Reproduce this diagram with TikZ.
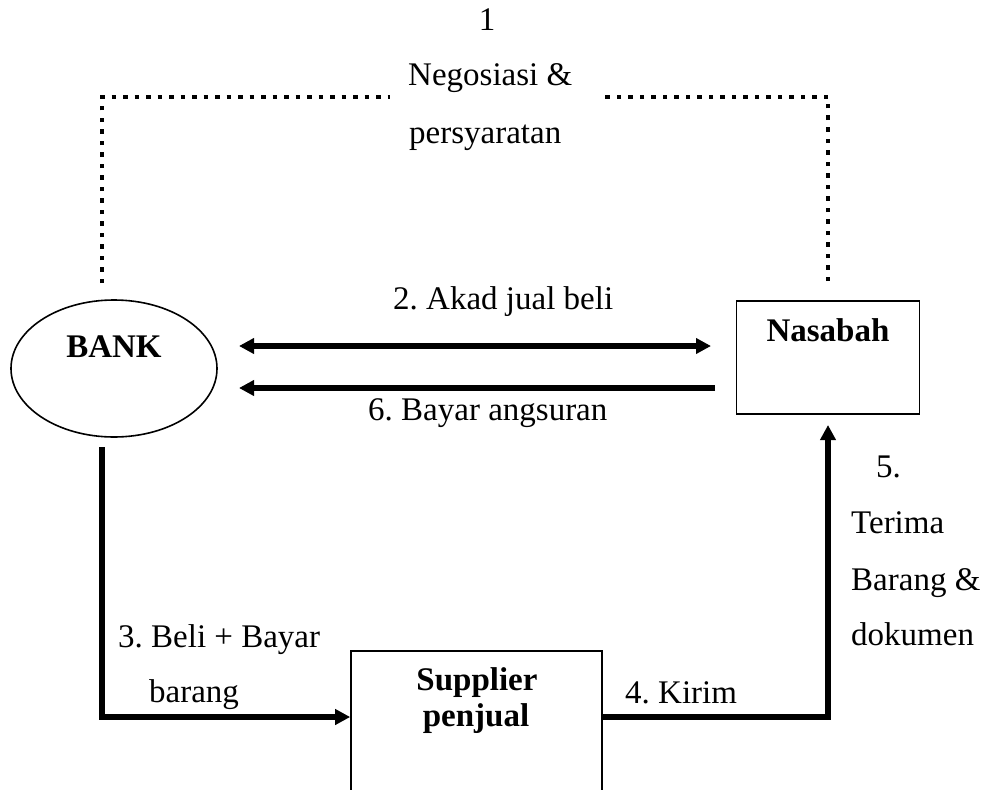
\documentclass[tikz,border=0pt]{standalone}
\usepackage{fontspec}
\setmainfont{Liberation Serif}
\usetikzlibrary{arrows.meta,shapes.geometric}
\frenchspacing

\begin{document}
\begin{tikzpicture}[x=1pt,y=-1pt,
  every node/.style={font=\fontsize{33}{39}\selectfont},
  txt/.style={inner sep=0pt, anchor=base west},
  ctxt/.style={inner sep=0pt, anchor=base},
  btxt/.style={inner sep=0pt, anchor=base, font=\fontsize{33}{39}\selectfont\bfseries},
  box/.style={draw, line width=1.6pt, rectangle},
  flow/.style={line width=5.5pt, line join=miter,
    -{Triangle[length=15pt,width=15pt]}},
  both/.style={line width=5.5pt,
    {Triangle[length=15pt,width=15pt]}-{Triangle[length=15pt,width=15pt]}},
  dots/.style={line width=4.5pt, dash pattern=on 4.5pt off 7pt}
]
\clip (0,0) rectangle (981,789);
\fill[white] (0,0) rectangle (981,789);

% parties
\node[ellipse, draw, line width=1.6pt, minimum width=206, minimum height=137] (bank) at (114,368.5) {};
\node[box, minimum width=183, minimum height=113] (nasabah) at (828,357.5) {};
\node[box, minimum width=251, minimum height=170] (supplier) at (476.5,736) {};

\node[btxt] (bankname) at (114,357) {BANK};
\node[btxt] (nasname) at (828,341) {Nasabah};
\node[btxt] (supname1) at (477,690) {Supplier};
\node[btxt] (supname2) at (476,726) {penjual};

% step 1: negotiation link
\coordinate (nl) at (390,97);
\coordinate (nr) at (602,97);
\coordinate (dl) at (102,283);
\coordinate (dr) at (828,281);
\draw[dots] (dl) |- (nl);
\draw[dots] (dr) |- (nr);
\node[ctxt] (s1) at (487,31) {1};
\node[txt] (s1a) at (408,86) {Negosiasi \&};
\node[txt] (s1b) at (409,143) {persyaratan};

% steps 2 and 6
\coordinate (a2l) at (239,346);
\coordinate (a2r) at (711,346);
\draw[both] (a2l) -- (a2r);
\node[txt] (s2) at (393,309) {2. Akad jual beli};
\coordinate (a6r) at (715,388);
\coordinate (a6l) at (239,388);
\draw[flow] (a6r) -- (a6l);
\node[txt] (s6) at (368,420) {6. Bayar angsuran};

% step 3: bank buys from supplier
\coordinate (b3) at (102,447);
\coordinate (c3) at (102,717);
\draw[flow] (b3) -- (c3) -- (c3 -| supplier.west);
\node[txt] (s3a) at (118,647) {3. Beli + Bayar};
\node[txt] (s3b) at (149,702) {barang};

% steps 4 and 5: delivery to customer
\coordinate (c4) at (828,717);
\coordinate (t5) at (828,425);
\draw[flow] (c4 -| supplier.east) -- (c4) -- (t5);
\node[txt] (s4) at (625,703) {4. Kirim};
\node[txt] (s5a) at (876,477) {5.};
\node[txt] (s5b) at (851,533) {Terima};
\node[txt] (s5c) at (851,590) {Barang \&};
\node[txt] (s5d) at (851,645) {dokumen};
\end{tikzpicture}
\end{document}
